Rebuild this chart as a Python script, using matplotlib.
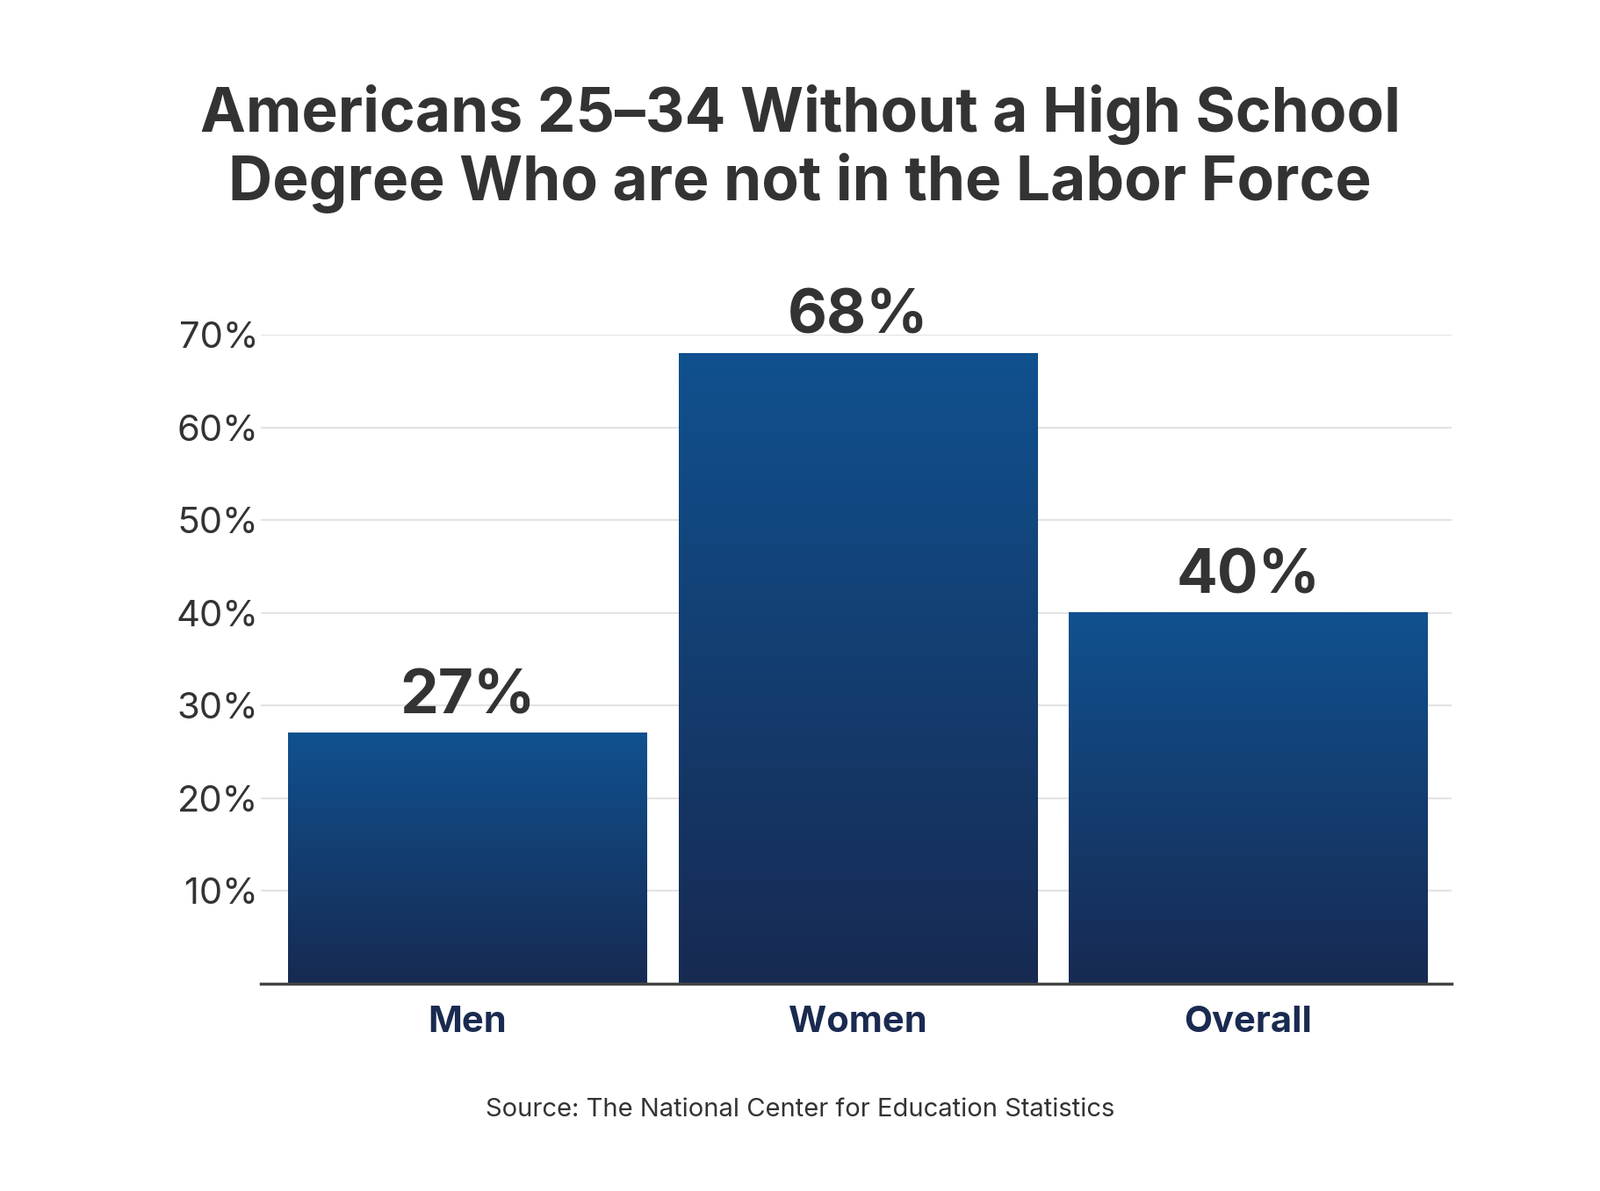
import numpy as np
import matplotlib.pyplot as plt
from matplotlib.colors import LinearSegmentedColormap

categories = ['Men', 'Women', 'Overall']
values = [27, 68, 40]
tick_vals = [10, 20, 30, 40, 50, 60, 70]
tick_labels = ['10%', '20%', '30%', '40%', '50%', '60%', '70%']

plt.rcParams['font.family'] = 'Inter'
fig = plt.figure(figsize=(18.22, 13.56), dpi=100)
ax = fig.add_axes([0.163, 0.174, 0.744, 0.545])

cmap = LinearSegmentedColormap.from_list('bar', ['#172a52', '#10518f'])
grad = np.linspace(0, 1, 256).reshape(-1, 1)
w = 0.92
for i, v in enumerate(values):
    ax.imshow(grad, cmap=cmap, origin='lower', aspect='auto',
              extent=[i - w / 2, i + w / 2, 0, v], zorder=2)
    ax.text(i, v + 0.8, f'{v}%', ha='center', va='bottom', fontsize=50,
            fontweight='bold', color='#333333', clip_on=False)

ax.set_xlim(-0.53, 2.52)
ax.set_ylim(0, 70)
ax.set_yticks(tick_vals)
ax.set_yticklabels(tick_labels, fontsize=30, color='#333333')
ax.set_xticks(range(len(categories)))
ax.set_xticklabels(categories, fontsize=30, fontweight='bold', color='#1a2a50')
ax.tick_params(length=0, pad=18)
ax.tick_params(axis='y', pad=2)
ax.grid(axis='y', color='#e3e3e3', linewidth=1.5, zorder=0)
for s in ['top', 'right', 'left']:
    ax.spines[s].set_visible(False)
ax.spines['bottom'].set_color('#444444')
ax.spines['bottom'].set_linewidth(2.5)

fig.text(0.5, 0.875, 'Americans 25–34 Without a High School\nDegree Who are not in the Labor Force',
         ha='center', va='center', fontsize=50, fontweight='bold', color='#333333',
         linespacing=1.15)
fig.text(0.5, 0.068, 'Source: The National Center for Education Statistics',
         ha='center', va='center', fontsize=21, color='#333333')

fig.savefig('out.png', dpi=100, facecolor='white')
